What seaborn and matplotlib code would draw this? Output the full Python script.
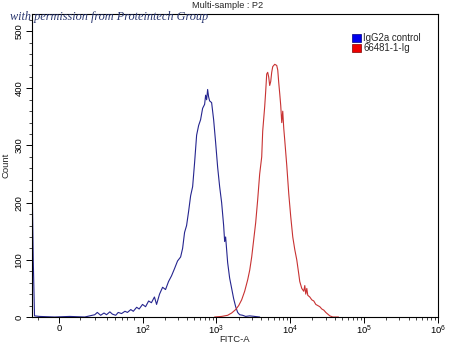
import matplotlib
matplotlib.use('Agg')
import matplotlib.pyplot as plt
import seaborn as sns
import pandas as pd
from matplotlib.patches import Patch
from matplotlib.ticker import FixedLocator, NullFormatter

# ---- data (FITC-A intensity, cell count) ----
iso_label = "IgG2a control"
ab_label = "66481-1-Ig"

iso_x = [-32, -30.5, -29, -23, -5, 13, 31, 43, 46, 50, 54, 57, 61, 64, 68, 71, 75, 79, 82, 86, 89, 93, 96,
         100, 110, 121, 132, 145, 155, 170, 187, 205, 225, 247, 272, 298, 328, 349, 371, 395, 421, 448,
         477, 507, 540, 575, 611, 651, 693, 715, 738, 761, 785, 810, 862, 918, 977, 1040, 1107, 1178,
         1254, 1294, 1334, 1421, 1512, 1610, 1713, 1824, 1941, 2066, 2268, 2490, 2827, 3856]
iso_y = [250, 100, 2, 1, 0, 1, 0, 4, 8, 3, 7, 4, 9, 5, 3, 8, 6, 10, 8, 13, 10, 17, 14,
         22, 18, 28, 25, 35, 22, 40, 52, 48, 62, 72, 85, 98, 105, 120, 148, 160, 185, 212,
         228, 270, 318, 335, 345, 365, 372, 388, 380, 398, 385, 378, 375, 345, 305, 262, 228, 200,
         160, 132, 140, 95, 68, 50, 32, 18, 8, 4, 3, 1, 2, 0]

ab_x = [946, 1178, 1421, 1610, 1824, 2004, 2198, 2415, 2652, 2827, 3006, 3199, 3404, 3622, 3854,
        4107, 4236, 4508, 4652, 4800, 4949, 5105, 5269, 5440, 5610, 5794, 6166, 6561, 6771, 6982,
        7211, 7431, 7670, 7913, 8165, 8414, 8970, 9550, 10160, 10815, 11510, 12250, 13040, 13450,
        14320, 15240, 15730, 16220, 16750, 17260, 18380, 19570, 20830, 22170, 23600, 25120, 26740,
        28460, 30290, 32240, 34330, 37680, 45000]
ab_y = [0, 1, 3, 7, 13, 20, 30, 45, 65, 82, 105, 135, 165, 205, 250,
        280, 325, 368, 395, 425, 428, 420, 405, 412, 428, 438, 442, 440, 432, 410,
        390, 370, 340, 360, 330, 310, 265, 215, 175, 140, 118, 100, 75, 62,
        50, 45, 55, 40, 50, 38, 35, 30, 28, 22, 20, 18, 14,
        12, 8, 5, 2, 0, 0]

x_major = [0, 1e2, 1e3, 1e4, 1e5, 1e6]
x_major_labels = ["0", "$10^2$", "$10^3$", "$10^4$", "$10^5$", "$10^6$"]
y_major = [0, 100, 200, 300, 400, 500]

# ---- style ----
sns.set_style('ticks')
plt.rcParams['font.family'] = ['Liberation Sans', 'DejaVu Sans']
plt.rcParams['mathtext.default'] = 'regular'

W, H = 450, 347
fig = plt.figure(figsize=(W / 100, H / 100), dpi=100)
ax = fig.add_axes([32 / W, 1 - 317 / H, (438 - 32) / W, (317 - 14) / H])

iso_df = pd.DataFrame({"FITC-A": iso_x, "Count": iso_y})
ab_df = pd.DataFrame({"FITC-A": ab_x, "Count": ab_y})
sns.lineplot(data=iso_df, x="FITC-A", y="Count", ax=ax, color='#25258f', lw=0.8,
             sort=False, estimator=None)
sns.lineplot(data=ab_df, x="FITC-A", y="Count", ax=ax, color='#c83232', lw=0.8,
             sort=False, estimator=None)

ax.set_xscale('symlog', linthresh=100, linscale=1.02)
ax.set_xlim(-32, 1e6)
ax.set_ylim(0, 530)

ax.xaxis.set_major_locator(FixedLocator(x_major))
ax.set_xticklabels(x_major_labels)
minors = [-25, 25, 43, 57, 67, 75, 82, 90]
for d in [1e2, 1e3, 1e4, 1e5]:
    minors += [k * d for k in range(2, 10)]
ax.xaxis.set_minor_locator(FixedLocator(minors))
ax.xaxis.set_minor_formatter(NullFormatter())

ax.yaxis.set_major_locator(FixedLocator(y_major))
ax.yaxis.set_minor_locator(FixedLocator([v for v in range(20, 530, 20) if v % 100]))
ax.yaxis.set_minor_formatter(NullFormatter())
for lab in ax.get_yticklabels():
    lab.set_rotation(90)
    lab.set_va('center')

ax.tick_params(which='major', direction='out', length=4, width=0.7, labelsize=6.8,
               colors='black', pad=2)
ax.tick_params(axis='x', which='major', pad=1)
ax.tick_params(which='minor', direction='out', length=2.2, width=0.6)
for s in ax.spines.values():
    s.set_visible(True)
    s.set_linewidth(0.8)
    s.set_color('black')

ax.set_xlabel("")
ax.set_ylabel("Count", fontsize=6.8, labelpad=3)
fig.text(235 / W, 1 - 340 / H, "FITC-A", ha='center', va='center', fontsize=6.8)
fig.text(228 / W, 1 - 5 / H, "Multi-sample : P2", ha='center', va='center', fontsize=6.6)

handles = [Patch(facecolor='#0000ee', edgecolor='#000080', lw=0.5, label=iso_label),
           Patch(facecolor='#ee0000', edgecolor='#800000', lw=0.5, label=ab_label)]
fig.legend(handles=handles, loc='upper left', bbox_to_anchor=(350 / W, 1 - 31 / H),
           frameon=False, fontsize=6.9, handlelength=0.9, handleheight=0.9,
           handletextpad=0.3, labelspacing=0.05, borderpad=0.2, borderaxespad=0)

fig.text(10 / W, 1 - 17 / H, "with permission from Proteintech Group", ha='left', va='center',
         fontsize=8.8, style='italic', family=['Liberation Serif', 'DejaVu Serif'],
         color='#2a3770')

fig.savefig('out.png', dpi=100, facecolor='white')
